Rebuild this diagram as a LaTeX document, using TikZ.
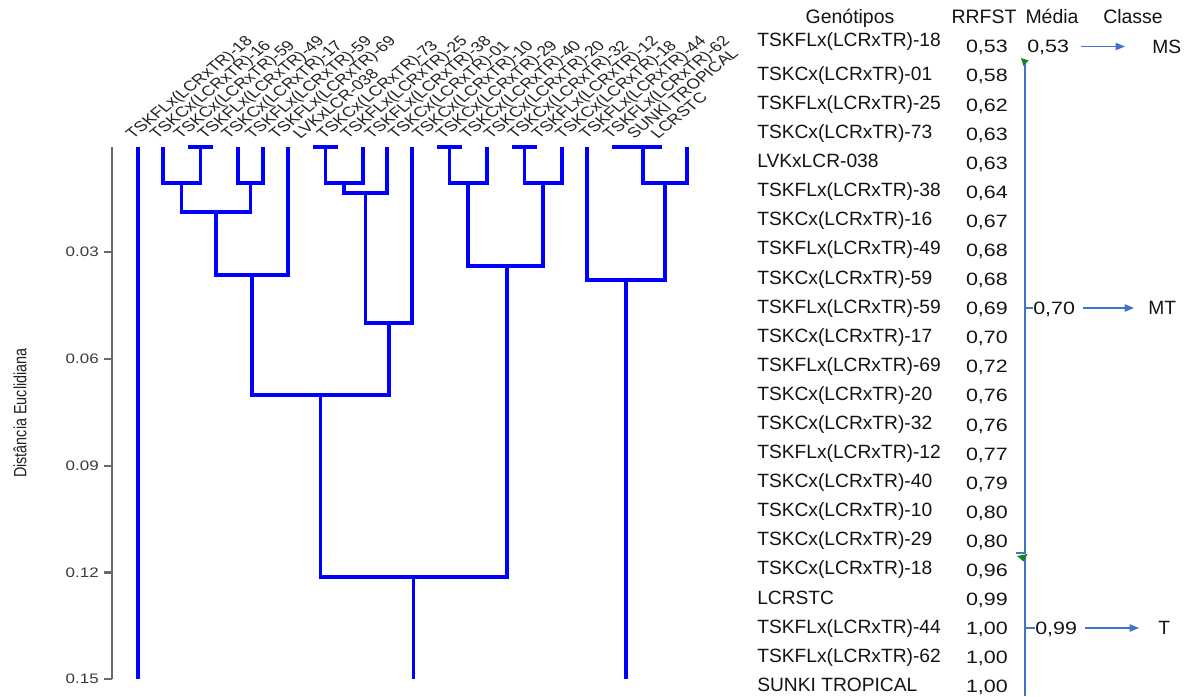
\documentclass[tikz,border=0pt]{standalone}
\usepackage{fontspec}
\setmainfont{Liberation Sans}
\newfontfamily\dgWideFam[FakeStretch=1.2]{Liberation Sans}
\newfontfamily\dgTickFam[FakeStretch=1.235]{Liberation Sans}
\usetikzlibrary{arrows.meta}
\definecolor{dgblue}{RGB}{0,0,255}
\definecolor{dgaxis}{RGB}{105,105,105}
\definecolor{dglab}{RGB}{35,35,35}
\definecolor{dgtick}{RGB}{60,60,60}
\definecolor{dgtxt}{RGB}{20,20,20}
\definecolor{dgbrk}{RGB}{68,114,196}
\definecolor{dggreen}{RGB}{20,130,40}
\newcommand\dgLeafFont{\fontsize{10.8pt}{12pt}\selectfont}
\newcommand\dgTickFont{\dgTickFam\fontsize{10.3pt}{12pt}\selectfont}
\newcommand\dgNameFont{\fontsize{14.4pt}{16pt}\selectfont}
\newcommand\dgHeadFont{\fontsize{14.6pt}{16pt}\selectfont}
\newcommand\dgValFont{\dgWideFam\fontsize{13.4pt}{15pt}\selectfont}
% U-shaped link of a dendrogram: x1,y1 (first child), x2,y2 (second child), merge level
\newcommand\dgJoin[5]{\draw[branch] (#1,#2) -- (#1,#5) -- (#3,#5) -- (#3,#4);}
\begin{document}
\begin{tikzpicture}[x=0.75pt,y=-0.75pt,
  branch/.style={draw=dgblue, line width=2.4pt, line join=miter, line cap=butt},
  axisline/.style={draw=dgaxis, line width=1.6pt},
  leaflab/.style={anchor=base west, rotate=45, transform shape, inner sep=0pt, text=dglab, font=\dgLeafFont},
  ticklab/.style={anchor=east, inner sep=0pt, text=dgtick, font=\dgTickFont},
  gname/.style={anchor=base west, inner sep=0pt, text=dgtxt, font=\dgNameFont},
  gval/.style={anchor=base east, inner sep=0pt, text=dgtxt, font=\dgValFont},
  gavg/.style={anchor=base west, inner sep=0pt, text=dgtxt, font=\dgValFont},
  ghead/.style={anchor=base, inner sep=0pt, text=dgtxt, font=\dgHeadFont},
  gclass/.style={anchor=base west, inner sep=0pt, text=dgtxt, font=\dgNameFont},
  bracket/.style={draw=dgbrk, line width=1.1pt},
  flow/.style={draw=dgbrk, line width=1pt, -{Triangle[length=7pt,width=5.5pt]}}
]
\fill[white] (0,0) rectangle (1184,696);
\useasboundingbox (0,0) rectangle (1184,696);

% ---------- distance axis ----------
\draw[axisline] (112,147) -- (112,679);
\foreach \k/\v in {1/0.03,2/0.06,3/0.09,4/0.12,5/0.15}{
  \pgfmathsetmacro\ty{145.5+106.75*\k}
  \draw[axisline] (104,\ty) -- (112,\ty);
  \node[ticklab] (tick\k) at (99,\ty) {\v};
}
\begin{scope}[shift={(20,413)}, xscale=1.235]
  \node[rotate=90, transform shape, inner sep=0pt, text=dglab,
        font=\fontsize{10.8pt}{12pt}\selectfont] (ytitle) at (0,0) {Distância Euclidiana};
\end{scope}

% ---------- dendrogram ----------
% single leaf joining at the root level
\draw[branch] (138,147) -- (138,679);
% left group
\draw[branch] (188,147) -- (213,147);
\dgJoin{163}{147}{200.5}{147}{183}
\dgJoin{238}{147}{263}{147}{183}
\dgJoin{181.75}{183}{250.5}{183}{212}
\dgJoin{216}{212}{288}{147}{275}
\draw[branch] (313,147) -- (338,147);
\dgJoin{325.5}{147}{363}{147}{183}
\dgJoin{344}{183}{387}{147}{193}
\dgJoin{365.5}{193}{412}{147}{323}
\dgJoin{252}{275}{389}{323}{395}
% middle group
\draw[branch] (437,147) -- (462,147);
\dgJoin{449.5}{147}{487}{147}{183}
\draw[branch] (512,147) -- (537,147);
\dgJoin{524.5}{147}{562}{147}{183}
\dgJoin{468}{183}{543}{183}{266}
\dgJoin{320.5}{395}{507}{266}{577}
\draw[branch] (413.75,577) -- (413.75,679);
% right group
\draw[branch] (612,147) -- (662,147);
\dgJoin{643}{147}{687}{147}{183}
\dgJoin{587}{147}{665}{183}{280}
\draw[branch] (626,280) -- (626,679);

% ---------- leaf labels ----------
\foreach \i/\t in {1/{TSKFLx(LCRxTR)-18},2/{TSKCx(LCRxTR)-16},3/{TSKCx(LCRxTR)-59},
  4/{TSKFLx(LCRxTR)-49},5/{TSKCx(LCRxTR)-17},6/{TSKFLx(LCRxTR)-59},7/{TSKFLx(LCRxTR)-69},
  8/{LVKxLCR-038},9/{TSKCx(LCRxTR)-73},10/{TSKFLx(LCRxTR)-25},11/{TSKFLx(LCRxTR)-38},
  12/{TSKCx(LCRxTR)-01},13/{TSKCx(LCRxTR)-10},14/{TSKCx(LCRxTR)-29},15/{TSKCx(LCRxTR)-40},
  16/{TSKCx(LCRxTR)-20},17/{TSKCx(LCRxTR)-32},18/{TSKFLx(LCRxTR)-12},19/{TSKCx(LCRxTR)-18},
  20/{TSKFLx(LCRxTR)-44},21/{TSKFLx(LCRxTR)-62},22/{SUNKI TROPICAL},23/{LCRSTC}}{
  \pgfmathsetmacro\lx{133+23.86*(\i-1)}
  \begin{scope}[shift={(\lx,139.5)}, xscale=1.235]
    \node[leaflab] (lab\i) at (0,0) {\t};
  \end{scope}
}

% ---------- table ----------
\node[ghead] (hgen) at (850,23) {Genótipos};
\node[ghead] (hrr)  at (984,23) {RRFST};
\node[ghead] (hmed) at (1052,23) {Média};
\node[ghead] (hcls) at (1133,23) {Classe};

\foreach \i/\g/\v in {1/{TSKFLx(LCRxTR)-18}/{0,53},2/{TSKCx(LCRxTR)-01}/{0,58},
  3/{TSKFLx(LCRxTR)-25}/{0,62},4/{TSKCx(LCRxTR)-73}/{0,63},5/{LVKxLCR-038}/{0,63},
  6/{TSKFLx(LCRxTR)-38}/{0,64},7/{TSKCx(LCRxTR)-16}/{0,67},8/{TSKFLx(LCRxTR)-49}/{0,68},
  9/{TSKCx(LCRxTR)-59}/{0,68},10/{TSKFLx(LCRxTR)-59}/{0,69},11/{TSKCx(LCRxTR)-17}/{0,70},
  12/{TSKFLx(LCRxTR)-69}/{0,72},13/{TSKCx(LCRxTR)-20}/{0,76},14/{TSKCx(LCRxTR)-32}/{0,76},
  15/{TSKFLx(LCRxTR)-12}/{0,77},16/{TSKCx(LCRxTR)-40}/{0,79},17/{TSKCx(LCRxTR)-10}/{0,80},
  18/{TSKCx(LCRxTR)-29}/{0,80},19/{TSKCx(LCRxTR)-18}/{0,96},20/{LCRSTC}/{0,99},
  21/{TSKFLx(LCRxTR)-44}/{1,00},22/{TSKFLx(LCRxTR)-62}/{1,00},23/{SUNKI TROPICAL}/{1,00}}{
  \pgfmathsetmacro\vy{46.5+29.09*(\i-1)}
  \pgfmathsetmacro\ny{ifthenelse(\i==1,46.5,\vy+4.8)}
  \node[gname] (g\i) at (757,\ny) {\g};
  \node[gval] (v\i) at (1008,\vy+6.4) {\v};
}

% class of the first genotype
\node[gavg] (avg1) at (1027,52.9) {0,53};
\coordinate (f1s) at (1081,46.5);
\coordinate (f1e) at (1125,46.5);
\draw[flow] (f1s) -- (f1e);
\node[gclass] (cls1) at (1152,53.3) {MS};

% bracket of the intermediate group
\coordinate (b1t) at (1025,62);
\coordinate (b1b) at (1025,553);
\coordinate (b1m) at (1025,308);
\coordinate (b1k) at (1033,308);
\draw[bracket] (b1t) -- (b1b) -- ++(-9,0);
\draw[bracket] (b1m) -- (b1k);
\fill[dggreen] (1021,58) -- (1028.5,60.5) -- (1023.5,66) -- cycle;
\node[gavg] (avg2) at (1033,314.4) {0,70};
\coordinate (f2s) at (1083,308);
\coordinate (f2e) at (1134,308);
\draw[flow] (f2s) -- (f2e);
\node[gclass] (cls2) at (1148,314.8) {MT};

% bracket of the last group
\coordinate (b2t) at (1025,557);
\coordinate (b2b) at (1025,696);
\coordinate (b2m) at (1025,628);
\coordinate (b2k) at (1035,628);
\draw[bracket] (b2t) -- (b2b);
\draw[bracket] (b2m) -- (b2k);
\fill[dggreen] (1017,556) -- (1027.5,554) -- (1023.5,561.5) -- cycle;
\node[gavg] (avg3) at (1035,634.4) {0,99};
\coordinate (f3s) at (1085,628);
\coordinate (f3e) at (1139,628);
\draw[flow] (f3s) -- (f3e);
\node[gclass] (cls3) at (1158,634.8) {T};
\end{tikzpicture}
\end{document}
